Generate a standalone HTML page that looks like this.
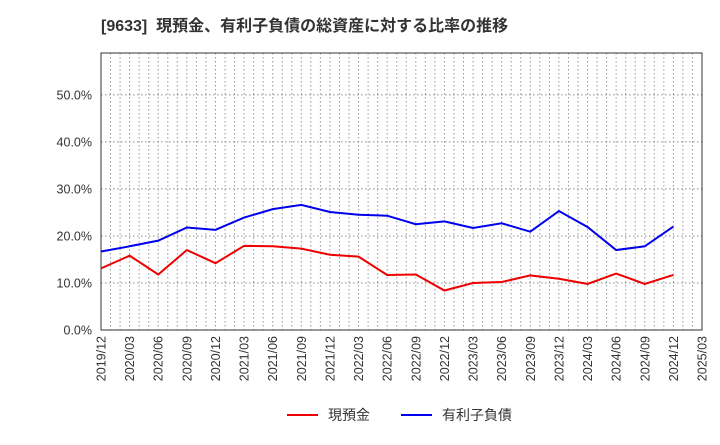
<!DOCTYPE html>
<html><head><meta charset="utf-8"><style>
body{margin:0;background:#fff;font-family:"Liberation Sans","Noto Sans CJK JP",sans-serif}
</style></head><body>
<svg id="c" width="720" height="440" xmlns="http://www.w3.org/2000/svg" style="font-family:'Liberation Sans','Noto Sans CJK JP',sans-serif">
<text x="101" y="31" font-size="16" font-weight="bold" fill="#333" xml:space="preserve">[9633]  現預金、有利子負債の総資産に対する比率の推移</text>
<g id="grid"></g><g id="axes"></g><g id="series"></g>
<g>
<line x1="287" y1="415" x2="318" y2="415" stroke="#e00" stroke-width="2"/>
<text x="328" y="420" font-size="14" fill="#333">現預金</text>
<line x1="401" y1="415" x2="432" y2="415" stroke="#00e" stroke-width="2"/>
<text x="442" y="420" font-size="14" fill="#333">有利子負債</text>
</g>
</svg>
<script>
const categories=["2019/12","2020/03","2020/06","2020/09","2020/12","2021/03","2021/06","2021/09","2021/12","2022/03","2022/06","2022/09","2022/12","2023/03","2023/06","2023/09","2023/12","2024/03","2024/06","2024/09","2024/12","2025/03"];
const cash=[13.1,15.8,11.8,17.0,14.2,17.9,17.8,17.3,16.0,15.6,11.7,11.8,8.4,10.0,10.2,11.6,10.9,9.8,12.0,9.8,11.7];
const debt=[16.7,17.8,19.0,21.8,21.3,23.9,25.7,26.6,25.1,24.5,24.3,22.5,23.1,21.7,22.7,20.9,25.3,21.9,17.0,17.8,22.0];
const yTicks=[0,10,20,30,40,50];
const L=101,R=702,T=53,B=330,YMAX=58.9;
const NS="http://www.w3.org/2000/svg";
const xs=i=>L+(R-L)*i/(categories.length-1);
const ys=v=>B-(B-T)*v/YMAX;
function mk(tag,attrs,parent){const e=document.createElementNS(NS,tag);for(const k in attrs)e.setAttribute(k,attrs[k]);parent.appendChild(e);return e;}
const grid=document.getElementById('grid'),axes=document.getElementById('axes'),ser=document.getElementById('series');
const nm=(categories.length-1)*3;
for(let m=1;m<nm;m++){const x=L+(R-L)*m/nm;
const g=mk('line',{x1:x,x2:x,y1:T,y2:B,stroke:'#999','stroke-width':1,'stroke-dasharray':'1.5,2.5'},grid);

}
yTicks.forEach(v=>{const y=ys(v);
if(v>0){const g=mk('line',{x1:L,x2:R,y1:y,y2:y,stroke:'#888','stroke-width':1,'stroke-dasharray':'1.5,2.5'},grid);

}
const t=mk('text',{x:L-9,y:y+4.5,'font-size':12.5,fill:'#333','text-anchor':'end'},axes);t.textContent=v.toFixed(1)+'%';

});
categories.forEach((c,i)=>{const x=xs(i);
const t=mk('text',{x:0,y:0,'font-size':12.5,fill:'#333','text-anchor':'end',transform:`translate(${x+4.5},${B+6}) rotate(-90)`},axes);t.textContent=c;

});
const fr=mk('rect',{x:L,y:T,width:R-L,height:B-T,fill:'none',stroke:'#333','stroke-width':1},axes);


function line(arr,col,name){const p=mk('polyline',{points:arr.map((v,i)=>xs(i)+','+ys(v)).join(' '),fill:'none',stroke:col,'stroke-width':2},ser);

}
line(cash,'#e00','cash-line');
line(debt,'#00e','debt-line');
</script>
</body></html>
